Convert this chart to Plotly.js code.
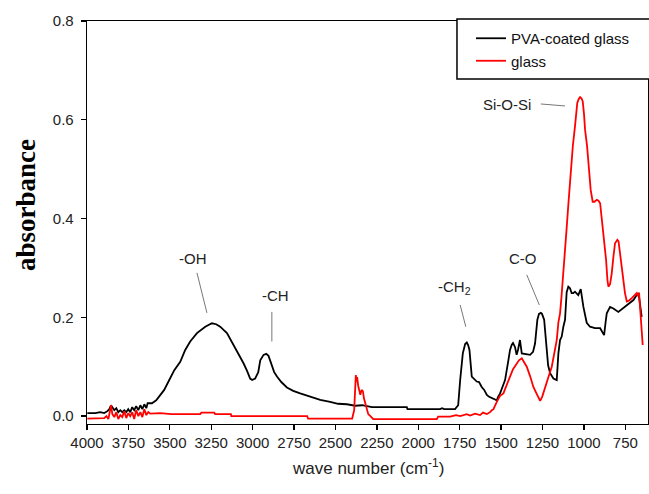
<!DOCTYPE html>
<html>
<head>
<meta charset="utf-8">
<script src="https://cdn.plot.ly/plotly-3.0.1.min.js"></script>
<style>html,body{margin:0;padding:0;background:#fff;}#chart{width:649px;height:494px;}</style>
</head>
<body>
<div id="chart"></div>
<script>
// ---- data ----
const seriesNames = ['PVA-coated glass', 'glass'];

const pvaWavenumber = [3998,3950,3920,3896,3877,3865,3855,3847,3835,3823,3811,3799,3787,3775,3763,3751,3739,3727,3715,3703,3690,3678,3666,3654,3642,3634,
  3608,3582,3558,3534,3508,3473,3437,3407,3377,3336,3286,3246,3220,3196,3155,3129,3095,3055,3033,3015,3003,2985,2966,2954,2934,2918,2904,2894,2884,2870,2853,2827,2793,2755,2713,2677,2633,2592,2532,2484,2431,2381,2339,2290,2280,2170,2069,2065,1868,1856,1844,1778,
  1759,1747,1731,1717,1707,1699,1691,1677,1663,1647,1633,1617,1602,1586,1572,1556,1542,1526,1518,1506,1494,1476,1456,1446,1436,1428,1416,1406,1398,1386,1375,1355,1325,1307,1295,1281,1271,1260,1253,1240,1231,1224,1216,1204,1184,1164,1154,1144,1134,1124,1114,1104,1094,1084,1074,1064,1054,1034,1019,1003,993,983,963,933,902,892,878,869,862,842,822,792,770,741,721,701,681,671,667,657,651];
const pvaAbsorbance = [0.006,0.006,0.008,0.006,0.010,0.014,0.022,0.018,0.012,0.016,0.008,0.012,0.008,0.012,0.008,0.014,0.008,0.018,0.012,0.020,0.012,0.022,0.014,0.024,0.016,0.026,
  0.026,0.032,0.043,0.053,0.070,0.093,0.110,0.134,0.151,0.168,0.181,0.188,0.186,0.181,0.168,0.152,0.134,0.107,0.091,0.076,0.073,0.076,0.089,0.113,0.124,0.126,0.122,0.113,0.100,0.089,0.080,0.069,0.058,0.051,0.046,0.042,0.038,0.033,0.029,0.025,0.024,0.021,0.022,0.019,0.018,0.018,0.018,0.014,0.014,0.016,0.014,0.014,
  0.022,0.073,0.127,0.146,0.149,0.144,0.134,0.080,0.075,0.070,0.069,0.059,0.053,0.043,0.039,0.036,0.034,0.032,0.039,0.046,0.057,0.073,0.113,0.134,0.144,0.148,0.140,0.124,0.134,0.154,0.127,0.126,0.124,0.130,0.147,0.195,0.207,0.209,0.207,0.195,0.164,0.127,0.103,0.087,0.076,0.073,0.127,0.154,0.161,0.181,0.195,0.251,0.262,0.259,0.249,0.249,0.252,0.245,0.257,0.221,0.203,0.189,0.181,0.178,0.178,0.171,0.164,0.190,0.208,0.221,0.218,0.211,0.217,0.225,0.230,0.235,0.245,0.249,0.241,0.221,0.201];

const glassWavenumber = [3998,3920,3896,3883,3871,3855,3847,3835,3823,3811,3799,3787,3775,3763,3751,3739,3727,3715,3703,3690,3678,3666,3654,3642,3630,3618,3558,3491,3316,3310,3232,3226,3131,3129,2671,2665,2399,2387,2377,2372,2369,2363,2350,2342,2334,2328,2321,2310,2302,2286,2272,1888,1880,1808,1772,1747,1707,1687,1657,1627,1609,1586,1566,1556,1546,
  1526,1506,1486,1470,1446,1428,1406,1392,1375,1361,1345,1325,1305,1282,1264,1252,1234,1216,1194,1180,1164,1154,1144,1135,1124,1114,1104,1094,1084,1075,1067,1054,1040,1031,1023,1014,1007,999,993,981,973,959,947,936,922,912,902,894,886,876,866,858,852,842,832,822,812,798,791,782,773,762,752,741,727,711,697,681,673,667,661,655,651,645];
const glassAbsorbance = [-0.005,-0.005,-0.004,0.000,-0.006,0.022,0.004,-0.002,0.008,-0.006,0.002,-0.002,0.010,-0.004,0.006,0.000,0.008,-0.006,0.012,0.000,0.008,-0.002,0.014,0.002,0.008,0.005,0.006,0.004,0.004,0.007,0.007,0.004,0.004,0.000,0.000,-0.005,-0.005,0.012,0.083,0.070,0.079,0.062,0.043,0.053,0.050,0.036,0.028,0.014,0.004,-0.001,-0.006,-0.006,-0.001,-0.001,0.002,0.000,0.004,0.001,0.005,0.002,0.007,0.004,0.008,0.012,0.014,
  0.029,0.041,0.046,0.061,0.080,0.095,0.107,0.113,0.117,0.109,0.100,0.081,0.059,0.043,0.031,0.039,0.056,0.077,0.100,0.122,0.154,0.190,0.208,0.243,0.286,0.336,0.381,0.428,0.472,0.519,0.546,0.586,0.634,0.642,0.646,0.643,0.637,0.610,0.580,0.547,0.519,0.458,0.434,0.434,0.438,0.436,0.431,0.408,0.384,0.347,0.316,0.276,0.262,0.267,0.289,0.322,0.350,0.357,0.354,0.330,0.304,0.269,0.249,0.232,0.234,0.239,0.243,0.249,0.243,0.250,0.221,0.195,0.168,0.144];

const xTickValues = [4000,3750,3500,3250,3000,2750,2500,2250,2000,1750,1500,1250,1000,750];
const yTickValues = [0.0,0.2,0.4,0.6,0.8];
const peakLabels = ['-OH', '-CH', '-CH<sub>2</sub>', 'C-O', 'Si-O-Si'];

// ---- chart ----
const FONT = 'Liberation Sans, Arial, sans-serif';
const traces = [
  {x: pvaWavenumber, y: pvaAbsorbance, name: seriesNames[0], type: 'scatter', mode: 'lines',
   line: {color: '#000000', width: 1.8}},
  {x: glassWavenumber, y: glassAbsorbance, name: seriesNames[1], type: 'scatter', mode: 'lines',
   line: {color: '#ff0000', width: 1.8}}
];

const labelPos = [[3359,0.320],[2864,0.245],[1784,0.261],[1365,0.320],[1466,0.630]];
const leaders = [[3336,0.290,3276,0.209],[2884,0.211,2884,0.151],[1747,0.225,1713,0.181],[1345,0.286,1269,0.225],[1260,0.632,1114,0.628]];

const annotations = peakLabels.map((t,i)=>({
  text: t, x: labelPos[i][0], y: labelPos[i][1], xref:'x', yref:'y', showarrow:false,
  font:{family:FONT, size:15, color:'#222'}, xanchor:'center', yanchor:'middle'
}));
annotations.push({text:'absorbance', xref:'paper', yref:'paper', x:-0.109, y:0.543, showarrow:false,
  textangle:-90, font:{family:'Liberation Serif, Times New Roman, serif', size:27, color:'#000', weight:'bold'},
  xanchor:'center', yanchor:'middle'});
annotations.push({text:'wave number (cm<sup>-1</sup>)', xref:'paper', yref:'paper', x:0.5, y:-0.107, showarrow:false,
  font:{family:FONT, size:17, color:'#222'}, xanchor:'center', yanchor:'middle'});

const shapes = leaders.map(l=>({type:'line', xref:'x', yref:'y', x0:l[0], y0:l[1], x1:l[2], y1:l[3],
  line:{color:'#777', width:1}}));
shapes.push({type:'rect', xref:'paper', yref:'paper', x0:0.6595, x1:1.05, y0:0.856, y1:1.005,
  fillcolor:'#fff', line:{color:'#000', width:1.5}, layer:'above'});

const layout = {
  width: 649, height: 494,
  margin: {l:87, r:1, t:21, b:70, pad:0},
  paper_bgcolor:'#fff', plot_bgcolor:'#fff',
  font:{family:FONT, size:15, color:'#222'},
  showlegend:true,
  legend:{x:0.6845, y:0.9975, xanchor:'left', yanchor:'top', bgcolor:'rgba(0,0,0,0)', borderwidth:0,
    font:{family:FONT, size:15, color:'#111'}, tracegroupgap:0},
  xaxis:{range:[4000,613], tickvals:xTickValues, ticktext:xTickValues.map(String),
    showgrid:false, zeroline:false, showline:true, linecolor:'#000', linewidth:1.3, mirror:true,
    ticks:'outside', ticklen:5, tickcolor:'#000', tickwidth:1.3,
    tickfont:{family:FONT, size:15, color:'#222'}},
  yaxis:{range:[-0.016,0.8], tickvals:yTickValues, tickformat:'.1f',
    showgrid:false, zeroline:false, showline:true, linecolor:'#000', linewidth:1.3, mirror:true,
    ticks:'outside', ticklen:5, tickcolor:'#000', tickwidth:1.3, ticklabelstandoff:4,
    tickfont:{family:FONT, size:15, color:'#222'}},
  annotations: annotations,
  shapes: shapes
};
Plotly.newPlot('chart', traces, layout, {displayModeBar:false, staticPlot:true});
</script>
</body>
</html>
